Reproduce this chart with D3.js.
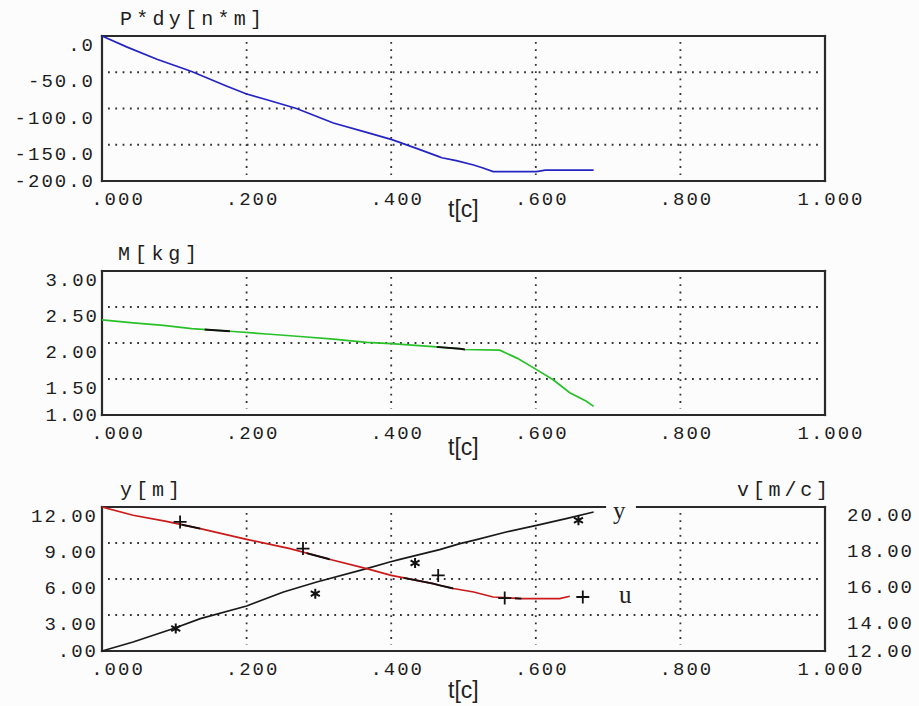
<!DOCTYPE html>
<html>
<head>
<meta charset="utf-8">
<script src="https://cdn.jsdelivr.net/npm/d3@7"></script>
<style>
  body { margin: 0; background: #fcfcfc; }
  svg { display: block; }
  .tick { font-family: "Liberation Mono", monospace; font-size: 19px; letter-spacing: 2px; fill: #1e1e1e; }
  .title { font-family: "Liberation Mono", monospace; font-size: 20px; fill: #1e1e1e; }
  .tlab { font-family: "Liberation Sans", Arial, sans-serif; font-size: 23px; fill: #222; }
  .leg { font-family: "Liberation Serif", serif; font-size: 25px; fill: #222; }
</style>
</head>
<body>
<div id="chart"></div>
<script>
var width = 919, height = 706;

// shared time axis
var tTicks = [0, 0.2, 0.4, 0.6, 0.8, 1.0];
var tLabels = [".000", ".200", ".400", ".600", ".800", "1.000"];

// panel 1 : P*dy [n*m]
var pdyTicks = [0, -50, -100, -150, -200];
var pdyLabels = [".0", "-50.0", "-100.0", "-150.0", "-200.0"];
var pdyT = [0, 0.034, 0.076, 0.124, 0.172, 0.2, 0.228, 0.269, 0.32, 0.366, 0.401, 0.435, 0.465, 0.47, 0.49, 0.514, 0.527, 0.541, 0.601, 0.613, 0.68];
var pdyV = [0, -15, -32, -49, -69, -80, -88, -100, -120, -133, -143, -155, -166, -168, -172, -178, -182, -187, -187, -185, -185];

// panel 2 : M [kg]
var massTicks = [3, 2.5, 2, 1.5, 1];
var massLabels = ["3.00", "2.50", "2.00", "1.50", "1.00"];
var massT = [0, 0.043, 0.085, 0.124, 0.182, 0.228, 0.274, 0.32, 0.366, 0.4, 0.458, 0.495, 0.502, 0.55, 0.574, 0.601, 0.624, 0.647, 0.67, 0.68];
var massV = [2.32, 2.28, 2.245, 2.2, 2.16, 2.125, 2.09, 2.055, 2.01, 1.99, 1.95, 1.92, 1.91, 1.9, 1.79, 1.63, 1.49, 1.31, 1.19, 1.12];
var massDark = [[0.142, 0.177], [0.463, 0.502]];

// panel 3 : y [m] (left) and v [m/c] (right)
var yTicks = [12, 9, 6, 3, 0];
var yLabels = ["12.00", "9.00", "6.00", "3.00", ".00"];
var vTicks = [20, 18, 16, 14, 12];
var vLabels = ["20.00", "18.00", "16.00", "14.00", "12.00"];
var yT = [0, 0.043, 0.099, 0.136, 0.2, 0.251, 0.297, 0.366, 0.398, 0.412, 0.467, 0.495, 0.514, 0.559, 0.601, 0.642, 0.68];
var yV = [0, 0.75, 1.87, 2.7, 3.75, 4.92, 5.75, 6.87, 7.42, 7.64, 8.45, 8.95, 9.22, 9.92, 10.47, 11.03, 11.58];
var yStarT = [0.102, 0.295, 0.433, 0.659];
var yStarV = [1.87, 4.78, 7.33, 10.89];
var uT = [0, 0.043, 0.089, 0.136, 0.2, 0.26, 0.32, 0.366, 0.4, 0.458, 0.467, 0.486, 0.514, 0.541, 0.58, 0.633, 0.647];
var uV = [20, 19.54, 19.2, 18.8, 18.2, 17.69, 17.04, 16.58, 16.2, 15.74, 15.65, 15.47, 15.28, 15.0, 14.91, 14.91, 15.04];
var uPlusT = [0.108, 0.278, 0.465, 0.557, 0.665];
var uPlusV = [19.17, 17.69, 16.2, 14.94, 15.0];
var uDark = [[0.11, 0.136], [0.283, 0.315], [0.417, 0.486], [0.571, 0.58]];

var svg = d3.select("#chart").append("svg")
    .attr("width", width)
    .attr("height", height);

svg.append("rect").attr("width", width).attr("height", height).attr("fill", "#fcfcfc");

var x = d3.scaleLinear().domain([0, 1]).range([102, 825]);

function zip(a, b) { return a.map(function(d, i) { return [d, b[i]]; }); }

var clipId = 0;

function panel(top, bottom, domain, ticks, labels, labelX, title, titleX, titleLen, tY, gap) {
  var y = d3.scaleLinear().domain(domain).range([bottom, top]);
  var g = svg.append("g");

  // dotted grid
  g.selectAll(".hgrid").data(ticks.slice(1, -1)).enter().append("line")
    .attr("x1", x(0) + 6).attr("x2", x(1) - 5)
    .attr("y1", function(d) { return y(d); }).attr("y2", function(d) { return y(d); })
    .attr("stroke", "#333").attr("stroke-width", 1.8).attr("stroke-dasharray", "1.8 5.5");
  g.selectAll(".vgrid").data(tTicks.slice(1, -1)).enter().append("line")
    .attr("x1", function(d) { return x(d); }).attr("x2", function(d) { return x(d); })
    .attr("y1", top + 6).attr("y2", bottom - 6)
    .attr("stroke", "#333").attr("stroke-width", 1.8).attr("stroke-dasharray", "1.8 5.5");

  // frame (top edge may have a gap for the legend)
  var fr = [[x(0), top, x(0), bottom], [x(0), bottom, x(1), bottom], [x(1), bottom, x(1), top]];
  if (gap) { fr.push([x(0), top, gap[0], top]); fr.push([gap[1], top, x(1), top]); }
  else fr.push([x(0), top, x(1), top]);
  g.selectAll(".frame").data(fr).enter().append("line")
    .attr("x1", function(d) { return d[0]; }).attr("y1", function(d) { return d[1]; })
    .attr("x2", function(d) { return d[2]; }).attr("y2", function(d) { return d[3]; })
    .attr("stroke", "#2a2a2a").attr("stroke-width", 2.2).attr("stroke-linecap", "square");

  // y tick labels
  g.selectAll(".ylab").data(ticks).enter().append("text")
    .attr("class", "tick")
    .attr("x", labelX)
    .attr("y", function(d) { return Math.min(y(d) + 10, bottom + 1); })
    .attr("dominant-baseline", "central")
    .attr("text-anchor", "end")
    .text(function(d, i) { return labels[i]; });

  // t tick labels
  g.selectAll(".xlab").data(tTicks).enter().append("text")
    .attr("class", "tick")
    .attr("x", function(d, i) { return x(d) + (i == 0 ? 16 : 6); })
    .attr("y", bottom + 19)
    .attr("dominant-baseline", "central")
    .attr("text-anchor", "middle")
    .text(function(d, i) { return tLabels[i]; });

  g.append("text").attr("class", "title")
    .attr("x", titleX).attr("y", top - 11)
    .attr("textLength", titleLen).attr("lengthAdjust", "spacing")
    .text(title);

  g.append("text").attr("class", "tlab")
    .attr("x", 448).attr("y", tY)
    .text("t[c]");

  return { y: y, g: g, top: top, bottom: bottom };
}

function drawLine(p, ys, pts, color, dark) {
  var line = d3.line().x(function(d) { return x(d[0]); }).y(function(d) { return ys(d[1]); });
  p.g.append("path").datum(pts)
    .attr("d", line).attr("fill", "none")
    .attr("stroke", color).attr("stroke-width", 1.7);
  if (dark) {
    var id = "clip" + (clipId++);
    var cp = svg.append("clipPath").attr("id", id);
    cp.selectAll("rect").data(dark).enter().append("rect")
      .attr("x", function(d) { return x(d[0]); })
      .attr("width", function(d) { return x(d[1]) - x(d[0]); })
      .attr("y", 0).attr("height", height);
    p.g.append("path").datum(pts)
      .attr("d", line).attr("fill", "none")
      .attr("stroke", "#111").attr("stroke-width", 1.9)
      .attr("clip-path", "url(#" + id + ")");
  }
}

/* Panel 1 */
var p1 = panel(36, 181, [-200, 0], pdyTicks, pdyLabels, 95, "P*dy[n*m]", 120, 142, 217);
drawLine(p1, p1.y, zip(pdyT, pdyV), "#2424c4");

/* Panel 2 */
var p2 = panel(271, 415, [1, 3], massTicks, massLabels, 99, "M[kg]", 118, 79, 455);
drawLine(p2, p2.y, zip(massT, massV), "#28c028", massDark);

/* Panel 3 */
var p3 = panel(507, 651, [0, 12], yTicks, yLabels, 98, "y[m]", 120, 60, 698, [605, 637]);
var v = d3.scaleLinear().domain([12, 20]).range([651, 507]);

p3.g.selectAll(".vlab").data(vTicks).enter().append("text")
  .attr("class", "tick")
  .attr("x", 847)
  .attr("y", function(d) { return Math.min(v(d) + 9, 652); })
  .attr("dominant-baseline", "central")
  .text(function(d, i) { return vLabels[i]; });
p3.g.append("text").attr("class", "title")
  .attr("x", 737).attr("y", 496)
  .attr("textLength", 91).attr("lengthAdjust", "spacing")
  .text("v[m/c]");

drawLine(p3, p3.y, zip(yT, yV), "#1a1a1a");
drawLine(p3, v, zip(uT, uV), "#cc1a1a", uDark);

// markers
p3.g.selectAll(".star").data(zip(yStarT, yStarV)).enter().append("path")
  .attr("transform", function(d) { return "translate(" + x(d[0]) + "," + p3.y(d[1]) + ")"; })
  .attr("d", "M0,-5V5M-4.5,-2.6L4.5,2.6M-4.5,2.6L4.5,-2.6")
  .attr("stroke", "#111").attr("stroke-width", 2).attr("fill", "none");
p3.g.selectAll(".plus").data(zip(uPlusT, uPlusV)).enter().append("path")
  .attr("transform", function(d) { return "translate(" + x(d[0]) + "," + v(d[1]) + ")"; })
  .attr("d", "M-6.5,0H6.5M0,-6.5V6.5")
  .attr("stroke", "#111").attr("stroke-width", 1.8).attr("fill", "none");

// legend labels
p3.g.append("text").attr("class", "leg").attr("x", 613).attr("y", 519).text("y");
p3.g.append("text").attr("class", "leg").attr("x", 619).attr("y", 603).text("u");
</script>
</body>
</html>
